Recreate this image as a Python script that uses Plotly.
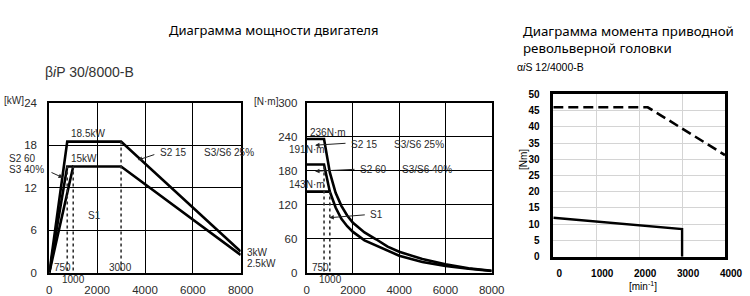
import plotly.graph_objects as go

W, H = 750, 296

# ---------------- data ----------------
# Left: motor power diagram (kW vs min^-1)
p_s215_speed = [0, 750, 3000, 8000]
p_s215_kw = [0, 18.5, 18.5, 3]
p_s260_speed = [0, 750, 1000]
p_s260_kw = [0, 15, 15]
p_s1_speed = [0, 1000, 3000, 8000]
p_s1_kw = [0, 15, 15, 2.5]

# Middle: motor torque diagram (N·m vs min^-1)
t_speed = [0, 750, 1000, 1250, 1500, 1750, 2000, 2500, 3000, 3500, 4000, 5000, 6000, 7000, 8000]
t_s215 = [236, 236, 177, 141, 118, 101, 88, 71, 59, 46, 37, 24, 15, 8, 3.5]
t_s260_speed = [0, 750, 1000]
t_s260 = [191, 191, 143]
t_s1_speed = [0, 750, 1000, 1250, 1500, 1750, 2000, 2500, 3000, 3500, 4000, 5000, 6000, 7000, 8000]
t_s1 = [143, 143, 143, 115, 95, 82, 72, 57, 48, 38, 30, 19, 12, 7, 3]

# Right: turret drive torque (Nm vs min^-1)
r_dash_speed = [0, 2200, 4000]
r_dash_nm = [46, 46, 31.3]
r_solid_speed = [0, 3000, 3000]
r_solid_nm = [12, 8.5, 0]

# dotted reference lines: (x, y_top)
left_dots = [(750, 15), (1000, 15), (3000, 18.5)]
mid_dots = [(750, 191), (1000, 143)]

FONT = "Liberation Sans, Arial, sans-serif"
TXT = "#2a2a2a"

fig = go.Figure()

def line(x, y, xa, ya, width=2.6, color="black", dash=None):
    fig.add_trace(go.Scatter(x=x, y=y, xaxis=xa, yaxis=ya, mode="lines",
                             line=dict(color=color, width=width, dash=dash),
                             hoverinfo="skip", showlegend=False))

# left panel
line(p_s215_speed, p_s215_kw, "x", "y")
line(p_s260_speed, p_s260_kw, "x", "y")
line(p_s1_speed, p_s1_kw, "x", "y")
for xv, yt in left_dots:
    line([xv, xv], [0.3, yt], "x", "y", width=1.6, color="#333", dash="dot")

# middle panel
line(t_speed, t_s215, "x2", "y2")
line(t_s260_speed, t_s260, "x2", "y2")
line(t_s1_speed, t_s1, "x2", "y2")
for xv, yt in mid_dots:
    line([xv, xv], [2, yt], "x2", "y2", width=1.6, color="#333", dash="dot")

# right panel
line(r_dash_speed, r_dash_nm, "x3", "y3", width=2.6, dash="10px,5px")
line(r_solid_speed, r_solid_nm, "x3", "y3", width=2.4)

def px_dom_x(a, b):
    return [a / W, b / W]

def px_dom_y(top, bottom):
    return [(H - bottom) / H, (H - top) / H]

tickfont = dict(family=FONT, size=11.5, color=TXT)
common = dict(showline=True, mirror=True, linecolor="black", linewidth=2,
              zeroline=False, ticks="", fixedrange=True, automargin=False)

fig.update_layout(
    template="none",
    width=W, height=H, margin=dict(l=0, r=0, t=0, b=0, pad=0),
    paper_bgcolor="white", plot_bgcolor="white", showlegend=False,
    xaxis=dict(domain=px_dom_x(49.3, 240.7), range=[0, 8000], anchor="y",
               tickvals=[0, 2000, 4000, 6000, 8000], showgrid=True, gridcolor="black",
               gridwidth=1.3, tickfont=tickfont, ticklabelstandoff=5, **common),
    yaxis=dict(domain=px_dom_y(102.7, 272.7), range=[0, 24], anchor="x",
               tickvals=[0, 6, 12, 18, 24], showgrid=True, gridcolor="black",
               gridwidth=1.3, tickfont=tickfont, ticklabelstandoff=8, **common),
    xaxis2=dict(domain=px_dom_x(306.7, 491.7), range=[0, 8000], anchor="y2",
                tickvals=[0, 2000, 4000, 6000, 8000], showgrid=True, gridcolor="black",
                gridwidth=1.3, tickfont=tickfont, ticklabelstandoff=5, **common),
    yaxis2=dict(domain=px_dom_y(102.7, 272.7), range=[0, 300], anchor="x2",
                tickvals=[0, 60, 120, 180, 240, 300], showgrid=True, gridcolor="black",
                gridwidth=1.3, tickfont=tickfont, ticklabelstandoff=5, **common),
    xaxis3=dict(domain=px_dom_x(553.3, 725), range=[0, 4000], anchor="y3",
                tickvals=[0, 1000, 2000, 3000, 4000], showgrid=True, gridcolor="#d4d4d4",
                gridwidth=1, ticklabelshift=6, ticklabelstandoff=5,
                tickfont=dict(family=FONT, size=10, color="black", weight="bold"),
                **{**common, "linewidth": 2.6}),
    yaxis3=dict(domain=px_dom_y(94.3, 256.7), range=[0, 50], anchor="x3",
                dtick=5, showgrid=True, gridcolor="#d4d4d4", gridwidth=1,
                ticklabelstandoff=9,
                tickfont=dict(family=FONT, size=10, color="black", weight="bold"),
                **{**common, "linewidth": 2.6}),
)

ann = []

def text(px, py, s, size=10, anchor="left", color=TXT, family=FONT, **kw):
    ann.append(dict(x=px / W, y=1 - py / H, xref="paper", yref="paper", text=s,
                    showarrow=False, xanchor=anchor, yanchor="middle",
                    font=dict(family=family, size=size, color=color), **kw))

def arrow(xa, ya, x, y, ax, ay):
    ann.append(dict(x=x, y=y, xref=xa, yref=ya, ax=ax, ay=ay, text="",
                    showarrow=True, arrowhead=2, arrowsize=0.9, arrowwidth=1,
                    arrowcolor="#222"))

TITLE_FONT = "Noto Sans, Open Sans, sans-serif"
# titles
text(273, 30, "Диаграмма мощности двигателя", size=13, anchor="center", color="black", family=TITLE_FONT)
text(521, 39.5, "Диаграмма момента приводной<br>револьверной головки", size=13.3,
     color="black", family=TITLE_FONT, align="left")
text(515, 67, "α<i>i</i>S 12/4000-B", size=10.5, color="black")
text(43, 72, "β<i>i</i>P 30/8000-B", size=14, color="#333")

# left panel labels
text(2, 100, "[kW]", size=10)
text(87.5, 133, "18.5kW", size=10, anchor="center")
text(83.5, 158, "15kW", size=10, anchor="center")
text(7, 158, "S2 60", size=10)
text(7, 169, "S3 40%", size=10)
text(158, 152, "S2 15", size=10)
text(202, 152, "S3/S6 25%", size=10)
text(94, 215, "S1", size=10, anchor="center")
text(62, 267, "750", size=10, anchor="center")
text(73, 279, "1000", size=10, anchor="center")
text(120.5, 267, "3000", size=10, anchor="center")
text(245, 252, "3kW", size=10)
text(245, 263, "2.5kW", size=10)

# middle panel labels
text(252, 101, "[N·m]", size=10)
text(308, 132, "236N·m", size=10)
text(287, 149, "191N·m", size=10)
text(287, 184, "143N·m", size=10)
text(349, 144, "S2 15", size=10)
text(392, 144, "S3/S6 25%", size=10)
text(358, 169, "S2 60", size=10)
text(400, 169, "S3/S6 40%", size=10)
text(368, 214, "S1", size=10)
text(320, 267, "750", size=10, anchor="center")
text(330, 279, "1000", size=10, anchor="center")

# right panel labels
ann.append(dict(x=523 / W, y=1 - 160 / H, xref="paper", yref="paper", text="[Nm]",
                showarrow=False, textangle=-90, xanchor="center", yanchor="middle",
                font=dict(family=FONT, size=10, color="black")))
text(643, 286, "[min<sup>-1</sup>]", size=10, anchor="center", color="black")

# arrows (tip in data coords, tail offset in px)
arrow("x", "y", 3700, 15.9, 18, -6)
arrow("x", "y", 573, 13.4, -13, -6)
arrow("x2", "y2", 359, 225, 32, -2)
arrow("x2", "y2", 359, 179, 41, -2)
arrow("x2", "y2", 977, 97, 37, -3)

fig.update_layout(annotations=ann)
fig.write_html("out.html")
